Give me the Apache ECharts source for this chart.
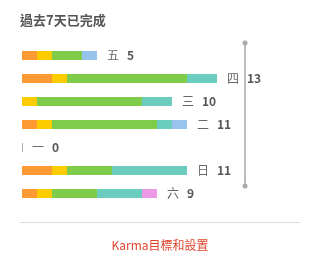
<!DOCTYPE html>
<html><head><meta charset="utf-8">
<script src="https://cdn.jsdelivr.net/npm/echarts@6/dist/echarts.min.js"></script>
<style>html,body{margin:0;padding:0;background:#fff}#c{width:319px;height:265px}</style>
</head><body><div id="c"></div>
<script>
var days = ['五','四','三','二','一','日','六'];
var orange = [1,2,0,1,0,2,1];
var yellow = [1,1,1,1,0,1,1];
var green  = [2,8,7,7,0,3,3];
var teal   = [0,2,2,1,0,5,3];
var blue   = [1,0,0,1,0,0,0];
var pink   = [0,0,0,0,0,0,1];
var goalValue = 14.87;
var titleText = '過去7天已完成';
var linkText = 'Karma目標和設置';

var segs = [
  {name:'a', data:orange, color:'#FE9A33'},
  {name:'b', data:yellow, color:'#FDCC00'},
  {name:'c', data:green,  color:'#7FCC4A'},
  {name:'d', data:teal,   color:'#6ACDBE'},
  {name:'e', data:blue,   color:'#98C3EC'},
  {name:'f', data:pink,   color:'#EB9AE6'}
];
var totals = days.map(function(_, i){ return segs.reduce(function(s, g){ return s + g.data[i]; }, 0); });
var font = '"Noto Sans CJK TC","Noto Sans",sans-serif';

var series = segs.map(function(g){
  return {type:'bar', name:g.name, stack:'all', data:g.data, barWidth:9,
    itemStyle:{color:g.color}, silent:true, animation:false};
});
series.push({type:'bar', name:'total', stack:'all', barWidth:9, barMinHeight:1, animation:false,
  data: totals.map(function(t){ return {value:0, itemStyle:{color: t === 0 ? '#aaa' : 'rgba(0,0,0,0)'}}; }),
  label:{show:true, position:'right', distance:9,
    formatter:function(p){ return '{d|' + days[p.dataIndex] + '}{n|' + totals[p.dataIndex] + '}'; },
    rich:{d:{color:'#666', fontSize:12, fontFamily:font},
          n:{color:'#555', fontSize:12, fontWeight:'bold', fontFamily:font, padding:[0,0,0,8]}}}
});

var chart = echarts.init(document.getElementById('c'));
chart.setOption({
  animation:false,
  title:{text:titleText, left:20, top:14, padding:0, textStyle:{fontSize:13, fontWeight:'bold', color:'#555', fontFamily:font}},
  grid:{left:22, right:27, top:44, bottom:60},
  xAxis:{type:'value', min:0, max:18, show:false},
  yAxis:{type:'category', data:days, inverse:true, show:false},
  series:series
});
var gx = chart.convertToPixel({xAxisIndex:0}, goalValue);
chart.setOption({graphic:[
  {type:'line', shape:{x1:gx, y1:43, x2:gx, y2:186}, style:{stroke:'#bbb', lineWidth:2}},
  {type:'circle', shape:{cx:gx, cy:43, r:2.5}, style:{fill:'#aaa'}},
  {type:'circle', shape:{cx:gx, cy:186, r:2.5}, style:{fill:'#aaa'}},
  {type:'line', shape:{x1:20, y1:222.5, x2:300, y2:222.5}, style:{stroke:'#ddd', lineWidth:1}},
  {type:'text', x:160, y:245, style:{text:linkText, fill:'#E0452D', fontSize:12, fontFamily:font, align:'center', verticalAlign:'middle'}}
]});
</script></body></html>
